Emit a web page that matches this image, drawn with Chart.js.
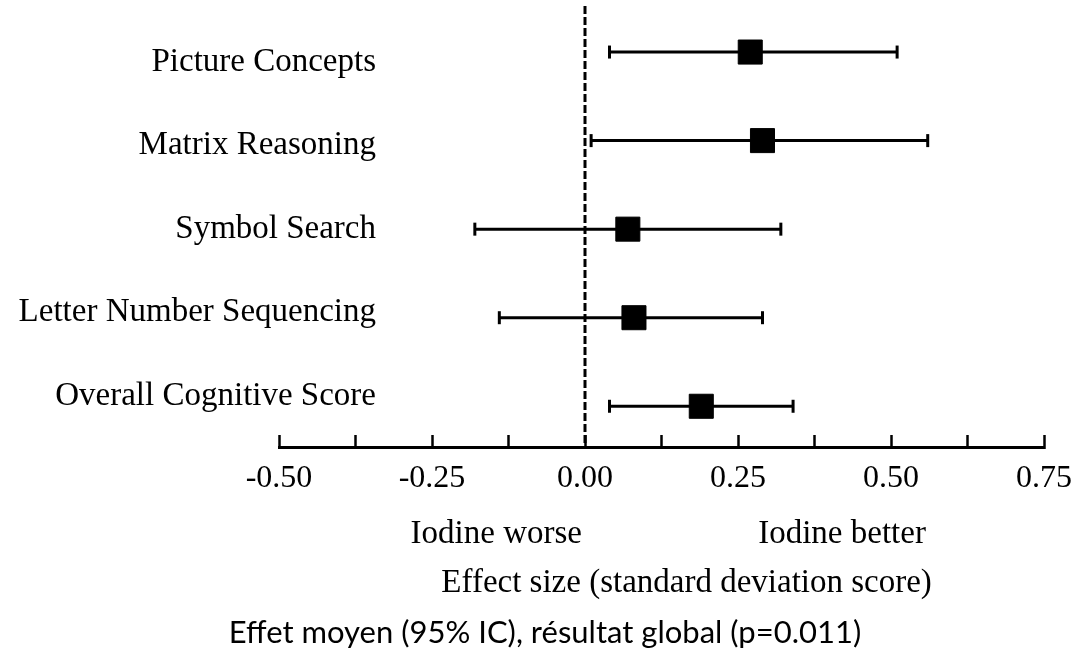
<!DOCTYPE html>
<html>
<head>
<meta charset="utf-8">
<title>Iodine supplementation – cognitive outcomes</title>
<script src="https://cdn.jsdelivr.net/npm/chart.js@4.4.1/dist/chart.umd.min.js"></script>
<style>
  html, body { margin: 0; padding: 0; background: #ffffff; }
  canvas { display: block; }
</style>
</head>
<body>
<canvas id="forest" width="1077" height="660"></canvas>
<script>
// Outcomes, top to bottom
const categories = [
  'Picture Concepts',
  'Matrix Reasoning',
  'Symbol Search',
  'Letter Number Sequencing',
  'Overall Cognitive Score'
];
// Mean effect (SD units) with 95% confidence limits
const estimates = [0.27, 0.29, 0.07, 0.08, 0.19];
const ciLower   = [0.04, 0.01, -0.18, -0.14, 0.04];
const ciUpper   = [0.51, 0.56, 0.32, 0.29, 0.34];
// Labelled ticks on the effect-size axis
const xTickLabels = [-0.5, -0.25, 0, 0.25, 0.5, 0.75];
const nullEffect = 0;

const xAxisTitle = 'Effect size (standard deviation score)';
const directionLabels = ['Iodine worse', 'Iodine better'];
const caption = 'Effet moyen (95% IC), résultat global (p=0.011)';

// Layout constants
const SERIF = '"Liberation Serif", "Times New Roman", serif';
const ROW_MIN = -0.52, ROW_MAX = 4.46;       // row axis (markers)
const LABEL_MIN = -0.778, LABEL_MAX = 4.503; // row-label axis (text baselines)

const datasets = [
  {
    label: 'Estimate',
    data: estimates.map((v, i) => ({ x: v, y: i })),
    showLine: false,
    pointStyle: 'rect',
    pointRadius: 17,
    pointHoverRadius: 17,
    pointBackgroundColor: '#000',
    pointBorderColor: '#000',
    pointBorderWidth: 1,
    yAxisID: 'y'
  },
  ...categories.map((name, i) => ({
    label: name + ' 95% CI',
    data: [{ x: ciLower[i], y: i }, { x: ciUpper[i], y: i }],
    showLine: true,
    borderColor: '#000',
    borderWidth: 3,
    pointStyle: 'line',
    pointRotation: 90,
    pointRadius: 6.5,
    pointHoverRadius: 6.5,
    pointBorderWidth: 3,
    pointBorderColor: '#000',
    yAxisID: 'y'
  })),
  {
    label: 'No effect',
    data: [{ x: nullEffect, y: ROW_MIN }, { x: nullEffect, y: ROW_MAX }],
    showLine: true,
    borderColor: '#000',
    borderWidth: 3,
    borderDash: [8, 3],
    pointRadius: 0,
    pointHoverRadius: 0,
    yAxisID: 'y'
  }
];

// Row labels, direction labels and axis title
const annotationText = {
  id: 'annotationText',
  afterDraw(chart) {
    const { ctx, chartArea, scales: { x, yLabels } } = chart;
    ctx.save();
    ctx.fillStyle = '#000';
    ctx.font = '33px ' + SERIF;
    ctx.textBaseline = 'alphabetic';

    ctx.textAlign = 'right';
    categories.forEach((name, i) => {
      ctx.fillText(name, chartArea.left + 97, yLabels.getPixelForValue(i));
    });

    ctx.textAlign = 'center';
    ctx.fillText(directionLabels[0], x.getPixelForValue(-0.145), chartArea.bottom + 96);
    ctx.fillText(directionLabels[1], x.getPixelForValue(0.42), chartArea.bottom + 96);
    ctx.fillText(xAxisTitle, x.getPixelForValue(0.166), chartArea.bottom + 145);
    ctx.restore();
  }
};

function draw() {
  new Chart(document.getElementById('forest'), {
    type: 'scatter',
    data: { datasets },
    options: {
      responsive: false,
      devicePixelRatio: 1,
      animation: false,
      events: [],
      layout: { autoPadding: false, padding: { left: 13, right: 0, top: 6, bottom: 8.4 } },
      plugins: {
        legend: { display: false },
        tooltip: { enabled: false },
        title: {
          display: true,
          position: 'bottom',
          text: caption,
          color: '#000',
          font: { family: 'Lato, "Open Sans", sans-serif', size: 31, weight: 'normal', lineHeight: 1.2 },
          padding: { top: 93, bottom: 0 }
        }
      },
      scales: {
        x: {
          type: 'linear',
          position: 'bottom',
          min: -0.5,
          max: 0.75,
          ticks: {
            stepSize: 0.125,
            autoSkip: false,
            maxRotation: 0,
            padding: 4,
            color: '#000',
            font: { family: SERIF, size: 32, lineHeight: 2.45 },
            callback: v => xTickLabels.some(t => Math.abs(t - v) < 1e-9) ? Number(v).toFixed(2) : ''
          },
          grid: {
            drawOnChartArea: false,
            drawTicks: true,
            tickLength: -12,
            tickWidth: 2.5,
            tickColor: '#000'
          },
          border: { display: true, color: '#000', width: 3 }
        },
        y: {
          type: 'linear',
          position: 'right',
          reverse: true,
          min: ROW_MIN,
          max: ROW_MAX,
          ticks: { display: false },
          grid: { display: false, drawTicks: false },
          border: { display: false },
          afterFit: s => { s.width = 33; }
        },
        yLabels: {
          type: 'linear',
          position: 'left',
          reverse: true,
          min: LABEL_MIN,
          max: LABEL_MAX,
          ticks: { display: false, stepSize: 1 },
          grid: { display: false, drawTicks: false },
          border: { display: false },
          afterFit: s => { s.width = 266; }
        }
      }
    },
    plugins: [annotationText]
  });
}

const fontsReady = document.fonts
  ? Promise.all([
      document.fonts.load('33px "Liberation Serif"'),
      document.fonts.load('31px Lato')
    ]).catch(() => {})
  : Promise.resolve();
fontsReady.then(draw);
</script>
</body>
</html>
